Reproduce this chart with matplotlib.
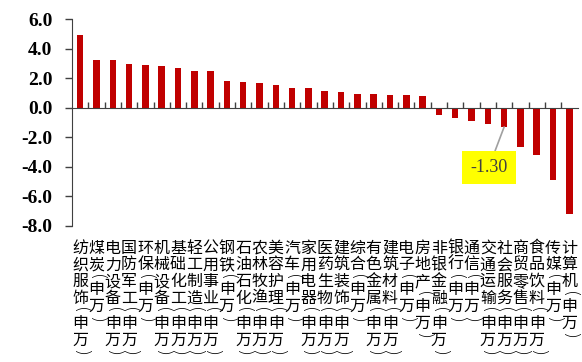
import matplotlib.pyplot as plt

plt.rcParams['font.family'] = ['Noto Sans CJK SC', 'DejaVu Sans']

names = ['纺织服饰', '煤炭', '电力设备', '国防军工', '环保', '机械设备', '基础化工',
         '轻工制造', '公用事业', '钢铁', '石油石化', '农林牧渔', '美容护理', '汽车',
         '家用电器', '医药生物', '建筑装饰', '综合', '有色金属', '建筑材料', '电子',
         '房地产', '非银金融', '银行', '通信', '交通运输', '社会服务', '商贸零售',
         '食品饮料', '传媒', '计算机']
values = [4.90, 3.22, 3.20, 2.93, 2.90, 2.84, 2.66, 2.47, 2.47, 1.84, 1.72, 1.66,
          1.57, 1.36, 1.36, 1.11, 1.09, 0.93, 0.91, 0.89, 0.84, 0.82, -0.46, -0.68,
          -0.91, -1.07, -1.30, -2.68, -3.20, -4.91, -7.18]
yticks = [6.0, 4.0, 2.0, 0.0, -2.0, -4.0, -6.0, -8.0]
marked = 26

labels = [n + '(申万)' for n in names]

fig = plt.figure(figsize=(5.82, 3.62), dpi=100)
ax = fig.add_axes([0.1237, 0.3757, 0.8686, 0.5718])

xs = list(range(len(values)))
ax.bar(xs, values, width=0.4, color='#C00000')

ax.set_xlim(-0.5, len(values) - 0.5)
ax.set_ylim(-8, 6)
ax.set_yticks(yticks)
ax.set_yticklabels(['%.1f' % v for v in yticks], family='Liberation Serif',
                   fontweight='bold', fontsize=14)
ax.tick_params(axis='y', direction='out', length=5, width=1, pad=9, color='#404040')

ax.spines['top'].set_visible(False)
ax.spines['right'].set_visible(False)
ax.spines['bottom'].set_position(('data', 0))
ax.spines['bottom'].set_color('#404040')
ax.spines['left'].set_color('#404040')

ax.set_xticks([i + 0.5 for i in xs[:-1]])
ax.set_xticklabels([])
ax.tick_params(axis='x', direction='in', length=4, width=1, color='#404040')

# vertical category labels, one character per row, brackets turned sideways
row = 12.0
for i, lab in enumerate(labels):
    pos = 10.0
    for ch in lab:
        if ch in '()':
            h = row / 2
            ax.annotate(ch, xy=(i, 0), xycoords=('data', 'axes fraction'),
                        xytext=(0, -(pos + h / 2)), textcoords='offset points',
                        ha='center', va='center', fontsize=13, rotation=-90,
                        family='DejaVu Sans', fontweight='light', color='black',
                        annotation_clip=False)
        else:
            h = row
            ax.annotate(ch, xy=(i, 0), xycoords=('data', 'axes fraction'),
                        xytext=(0, -(pos + h / 2)), textcoords='offset points',
                        ha='center', va='center', fontsize=11.5, color='black',
                        annotation_clip=False)
        pos += h

ax.annotate('%.2f' % values[marked], xy=(marked, values[marked]), xytext=(25.06, -4.04),
            ha='center', va='center', family='Liberation Serif', fontsize=13,
            color='#404040',
            bbox=dict(boxstyle='square,pad=0.45', fc='#FFFF00', ec='none'),
            arrowprops=dict(arrowstyle='-', color='#A0A0A0', lw=1.2, shrinkA=0, shrinkB=0))

fig.savefig('out.png', dpi=100)
